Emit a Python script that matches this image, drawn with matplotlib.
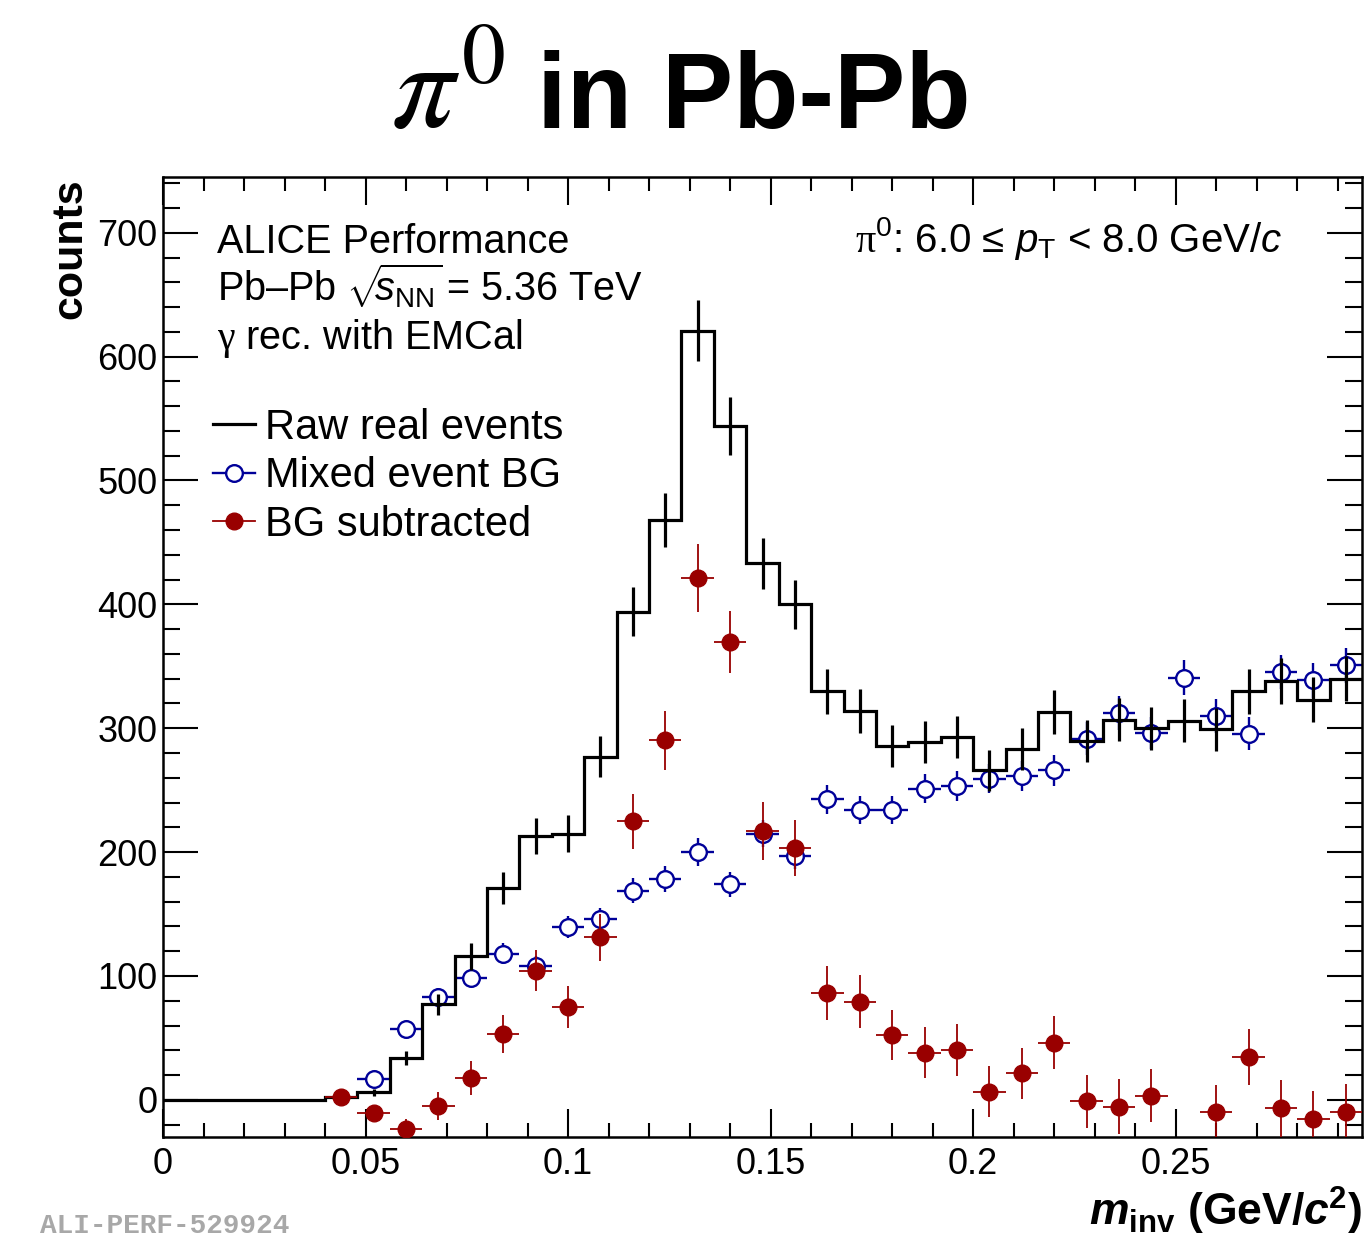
import numpy as np
import matplotlib.pyplot as plt
from matplotlib.lines import Line2D
from matplotlib.ticker import MultipleLocator, AutoMinorLocator

plt.rcParams['font.family'] = ['Liberation Sans', 'DejaVu Sans']
plt.rcParams['mathtext.fontset'] = 'custom'
plt.rcParams['mathtext.rm'] = 'Liberation Serif'
plt.rcParams['mathtext.it'] = 'Liberation Sans:italic'
plt.rcParams['mathtext.bf'] = 'Liberation Sans:bold'
plt.rcParams['mathtext.sf'] = 'Liberation Sans'
if 'mathtext.bfit' in plt.rcParams:
    plt.rcParams['mathtext.bfit'] = 'Liberation Sans:bold:italic'

# invariant mass binning (GeV/c^2), 8 MeV bins
edges = np.linspace(0, 0.296, 38)
centers = 0.5 * (edges[:-1] + edges[1:])

# raw real events (all 37 bins)
raw_counts = [0, 0, 0, 0, 0, 2,
              6, 34, 77, 116, 171, 213, 215, 277, 394, 468, 621, 544, 433, 400,
              330, 314, 286, 289, 293, 266, 283, 313, 290, 307, 300, 306, 299,
              330, 338, 323, 340]
raw_err = [0, 0, 0, 0, 0, 1.4,
           2.5, 5.8, 8.8, 10.8, 13.1, 14.6, 14.7, 16.6, 19.8, 21.6, 24.9, 23.3,
           20.8, 20.0, 18.2, 17.7, 16.9, 17.0, 17.1, 16.3, 16.8, 17.7, 17.0,
           17.5, 17.3, 17.5, 17.3, 18.2, 18.4, 18.0, 18.4]

# mixed event background (from 0.052)
mixed_counts = [16.7, 57.3, 83, 98.4, 118, 108, 139.8, 145.7, 168.8, 178, 200,
                174, 215, 197, 242.5, 233.9, 233.9, 251.3, 253.2, 259.4, 261.3,
                266, 291.7, 312.4, 296.2, 340.9, 309.7, 295.7, 345.4, 338.7, 350.8]
mixed_err = [3, 6, 7, 7.5, 8.5, 8, 9, 9.5, 10, 10.5, 11, 10, 11, 10.5, 12, 11.5,
             11.5, 12, 12, 12, 12, 12.5, 13, 13.5, 13, 14, 13.5, 13, 14, 14, 14]

# background subtracted (from 0.044)
sub_counts = [2, -10.8, -23.7, -4.8, 17.5, 53, 104.3, 74.7, 131.2, 225, 290.3,
              421.2, 369.6, 217, 203, 86.6, 79.3, 52.4, 38.2, 40.3, 6.7, 21.5,
              46.2, -1.3, -5.4, 3.5, -35, -10.2, 34.4, -6.7, -15.3, -10.2]
sub_err = [1.5, 4, 8.5, 11.3, 13.5, 15.5, 16.6, 17.1, 19.1, 22.2, 24, 27.2, 25.3,
           23.5, 22.6, 21.8, 21.1, 20.5, 20.8, 20.9, 20.3, 20.7, 21.6, 21.3, 22,
           21.6, 22.4, 22.1, 22.4, 23.1, 22.8, 23.1]

blue = '#000099'
red = '#990000'
ymin, ymax = -30, 745

W, H = 1369, 1240
fig = plt.figure(figsize=(W / 100, H / 100), dpi=100)
ax = fig.add_axes([163 / W, 1 - 1137 / H, (1362 - 163) / W, (1137 - 177) / H])

# mixed event BG
xm = centers[6:]
ax.errorbar(xm, mixed_counts, yerr=mixed_err, xerr=0.004, fmt='o', ms=12,
            mfc='white', mec=blue, mew=1.7, ecolor=blue, elinewidth=1.7,
            capsize=0, zorder=2)

# raw histogram
raw = np.array(raw_counts, dtype=float)
ax.stairs(raw, edges, baseline=None, color='k', lw=2.3, zorder=3)
nz = raw > 0
ax.errorbar(centers[nz], raw[nz], yerr=np.array(raw_err)[nz], fmt='none',
            ecolor='k', elinewidth=2.3, capsize=0, zorder=3)

# BG subtracted, points outside the frame are not drawn (ROOT style)
xs = centers[5:]
sub = np.array(sub_counts)
ok = sub >= ymin
ax.errorbar(xs[ok], sub[ok], yerr=np.array(sub_err)[ok], xerr=0.004, fmt='o',
            ms=12, mfc=red, mec=red, ecolor=red, elinewidth=1.3, capsize=0,
            zorder=4)

ax.set_xlim(0, 0.296)
ax.set_ylim(ymin, ymax)
ax.xaxis.set_major_locator(MultipleLocator(0.05))
ax.xaxis.set_minor_locator(AutoMinorLocator(5))
ax.yaxis.set_major_locator(MultipleLocator(100))
ax.yaxis.set_minor_locator(AutoMinorLocator(5))
ax.set_xticks([0, 0.05, 0.1, 0.15, 0.2, 0.25])
ax.set_xticklabels(['0', '0.05', '0.1', '0.15', '0.2', '0.25'])
ax.tick_params(axis='both', which='both', direction='in', top=True, right=True,
               width=1.5, labelsize=26)
ax.tick_params(axis='x', which='major', length=20, pad=7)
ax.tick_params(axis='x', which='minor', length=10)
ax.tick_params(axis='y', which='major', length=25, pad=4)
ax.tick_params(axis='y', which='minor', length=12.5)
for s in ax.spines.values():
    s.set_linewidth(1.8)

# axis titles
fig.text(70 / W, 1 - 178 / H, 'counts', rotation=90, ha='center', va='top',
         fontsize=31, fontweight='bold')
fig.text(1362 / W, 1 - 1226 / H,
         r'$\mathbfit{m}_{\mathbf{inv}}\ \mathbf{(GeV/}\mathbfit{c}^{\mathbf{2}}\mathbf{)}$',
         ha='right', va='baseline', fontsize=32)

# title
fig.text(505 / W, 1 - 128 / H, r'$\pi^{0}$', ha='right', va='baseline',
         fontsize=90, math_fontfamily='stix')
fig.text(537 / W, 1 - 128 / H, 'in Pb-Pb', ha='left', va='baseline',
         fontsize=77, fontweight='bold')

# labels
fig.text(217 / W, 1 - 253 / H, 'ALICE Performance', fontsize=28.5, va='baseline')
fig.text(217 / W, 1 - 301 / H, r'Pb–Pb $\sqrt{\!\!s_{\mathsf{NN}}}\,$= 5.36 TeV',
         fontsize=28.5, va='baseline')
fig.text(217 / W, 1 - 349 / H, r'$\mathrm{\gamma}$ rec. with EMCal',
         fontsize=28.5, va='baseline')
fig.text(1282 / W, 1 - 252 / H,
         r'$\mathrm{\pi}^{\mathsf{0}}$: 6.0 ≤ $p_{\mathsf{T}}$ < 8.0 GeV/$c$',
         fontsize=29, ha='right', va='baseline')

handles = [
    Line2D([], [], color='k', lw=2.3),
    Line2D([], [], color=blue, lw=1.7, marker='o', ms=12, mfc='white', mec=blue, mew=1.7),
    Line2D([], [], color=red, lw=1.3, marker='o', ms=12, mfc=red, mec=red),
]
ax.legend(handles, ['Raw real events', 'Mixed event BG', 'BG subtracted'],
          loc='upper left', bbox_to_anchor=(213 / W, 1 - 408 / H),
          bbox_transform=fig.transFigure, frameon=False, fontsize=30,
          handlelength=1.0, handletextpad=0.25, labelspacing=0.2,
          borderpad=0, borderaxespad=0)

fig.text(40 / W, 1 / H, 'ALI-PERF-529924', fontsize=20,
         family='Liberation Mono', fontweight='bold', color='#a8a8a8',
         va='bottom')

fig.savefig('out.png', dpi=100)
